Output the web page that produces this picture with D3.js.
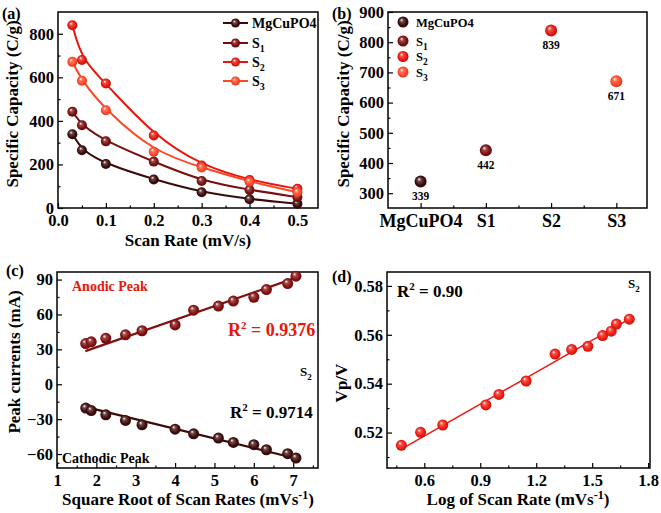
<!DOCTYPE html>
<html><head><meta charset="utf-8">
<script src="https://cdn.jsdelivr.net/npm/d3@7"></script>
<style>
body{margin:0;background:#fff;}
svg{font-family:"Liberation Serif","Times New Roman",serif;font-weight:bold;}
</style></head>
<body>
<svg id="c" width="661" height="513"></svg>
<script>
// ---------- DATA ----------
const scanRates = [0.03, 0.05, 0.1, 0.2, 0.3, 0.4, 0.5];
const seriesNames = ["MgCuPO4", "S1", "S2", "S3"];
const capMg = [339, 265, 202, 131, 72, 40, 20];
const capS1 = [442, 380, 306, 213, 124, 83, 50];
const capS2 = [839, 680, 572, 333, 195, 128, 88];
const capS3 = [671, 584, 449, 258, 186, 121, 72];
const maxCap = [339, 442, 839, 671];
const colors = ["#3a0a0a", "#7a0e0e", "#e8160c", "#ff4726"];

const sqrtRates = [1.73, 1.87, 2.24, 2.74, 3.16, 4.0, 4.47, 5.1, 5.48, 6.0, 6.32, 6.86, 7.07];
const anodic = [35, 36.5, 39.5, 42.5, 46, 51, 63.7, 67.2, 71.5, 74.8, 81.4, 86.6, 92.9];
const cathodic = [-20.5, -22.6, -26.3, -31.1, -34.9, -38.6, -42.6, -46.3, -50, -52, -56.3, -59.7, -63.4];
const anodicFitX = [1.72, 7.15];
const anodicFitY = [28.5, 92.5];
const cathodicFitX = [1.72, 7.15];
const cathodicFitY = [-19.5, -64.5];

const logRates = [0.477, 0.58, 0.699, 0.93, 1.0, 1.146, 1.301, 1.39, 1.477, 1.556, 1.602, 1.63, 1.699];
const vp = [0.5148, 0.5201, 0.5231, 0.5313, 0.5356, 0.5411, 0.5521, 0.554, 0.5553, 0.5597, 0.5615, 0.5644, 0.5664];
const vpFitX = [0.477, 1.70];
const vpFitY = [0.5132, 0.5665];

// ---------- SETUP ----------
const svg = d3.select("#c");
const defs = svg.append("defs");
function grad(id, col) {
  const g = defs.append("radialGradient").attr("id", id)
    .attr("cx", "50%").attr("cy", "50%").attr("r", "55%").attr("fx", "35%").attr("fy", "30%");
  g.append("stop").attr("offset", "0%").attr("stop-color", "#ffffff");
  g.append("stop").attr("offset", "28%").attr("stop-color", d3.interpolateRgb(col, "#fff")(0.25));
  g.append("stop").attr("offset", "70%").attr("stop-color", col);
  g.append("stop").attr("offset", "100%").attr("stop-color", d3.color(col).darker(0.8));
}
colors.forEach((c, i) => grad("g" + i, c));
grad("gc1", "#820f0f");
grad("gc2", "#3d0a0a");
grad("gd", "#f01a10");

function frame(x0, x1, y0, y1) {
  svg.append("rect").attr("x", x0).attr("y", y0).attr("width", x1 - x0).attr("height", y1 - y0)
    .attr("fill", "none").attr("stroke", "#000").attr("stroke-width", 1.5);
}
function axes(xs, ys, xt, yt, xfmt, yfmt, xminor, yminor, xlabelsOverride, xsize) {
  const [x0, x1] = xs.range(), [y1, y0] = ys.range();
  const gx = svg.append("g").attr("transform", `translate(0,${y1})`);
  gx.call(d3.axisBottom(xs).tickValues(xt).tickSize(-5).tickPadding(6).tickFormat(xlabelsOverride || xfmt));
  gx.append("g").call(d3.axisBottom(xs).tickValues(xminor).tickSize(-2.5).tickFormat(""));
  gx.selectAll(".tick text").attr("font-size", xsize || 16.5);
  const gy = svg.append("g").attr("transform", `translate(${x0},0)`);
  gy.call(d3.axisLeft(ys).tickValues(yt).tickSize(-5).tickPadding(4).tickFormat(yfmt));
  gy.append("g").call(d3.axisLeft(ys).tickValues(yminor).tickSize(-2.5).tickFormat(""));
  gy.selectAll(".tick text").attr("font-size", 16.5);
  svg.selectAll(".domain").remove();
  svg.selectAll(".tick line").attr("stroke", "#000").attr("stroke-width", 1.2);
  svg.selectAll(".tick text").attr("font-family", "Liberation Serif").attr("font-weight", "bold").attr("fill", "#000");
  frame(x0, x1, y0, y1);
}
function text(x, y, str, opt = {}) {
  const t = svg.append("text").attr("x", x).attr("y", y).attr("font-size", opt.size || 15)
    .attr("fill", opt.fill || "#000").attr("text-anchor", opt.anchor || "start");
  if (str) t.text(str);
  if (opt.rot) t.attr("transform", `rotate(-90,${x},${y})`);
  return t;
}
function sphere(x, y, r, gid) {
  svg.append("circle").attr("cx", x).attr("cy", y).attr("r", r).attr("fill", `url(#${gid})`);
}
function subLabel(t, base, sub, subSize) {
  t.append("tspan").text(base);
  t.append("tspan").attr("font-size", subSize).attr("dy", 4).text(sub);
}

// ---------- PANEL (a) ----------
{
  const xs = d3.scaleLinear().domain([0, 0.543]).range([58, 318]);
  const ys = d3.scaleLinear().domain([0, 900]).range([208, 12]);
  axes(xs, ys, [0, 0.1, 0.2, 0.3, 0.4, 0.5], [0, 200, 400, 600, 800],
    d3.format(".1f"), d3.format("d"), [0.05, 0.15, 0.25, 0.35, 0.45], [100, 300, 500, 700]);
  const sets = [capMg, capS1, capS2, capS3];
  const line = d3.line().x((d, i) => xs(scanRates[i])).y(d => ys(d)).curve(d3.curveBasis);
  sets.forEach((s, k) => {
    svg.append("path").attr("d", line(s)).attr("fill", "none").attr("stroke", colors[k]).attr("stroke-width", 2);
  });
  sets.forEach((s, k) => s.forEach((v, i) => sphere(xs(scanRates[i]), ys(v), 5, "g" + k)));
  const ly = [23, 43, 62, 81];
  ly.forEach((y, k) => {
    svg.append("line").attr("x1", 223).attr("x2", 248).attr("y1", y).attr("y2", y).attr("stroke", colors[k]).attr("stroke-width", 2);
    sphere(235.5, y, 4.5, "g" + k);
    const t = text(252, y + 5, "", { size: 14 });
    if (k === 0) { t.append("tspan").text("MgCuPO"); t.append("tspan").attr("font-size", 14).text("4"); }
    else subLabel(t, "S", String(k), 10);
  });
  text(2, 19, "(a)", { size: 16 });
  text(188, 246, "Scan Rate (mV/s)", { size: 17, anchor: "middle" });
  text(18, 104, "Specific Capacity (C/g)", { size: 17, anchor: "middle", rot: true });
}

// ---------- PANEL (b) ----------
{
  const xs = d3.scaleLinear().domain([0.5, 4.47]).range([388, 647]);
  const ys = d3.scaleLinear().domain([251, 900]).range([208, 12]);
  axes(xs, ys, [1, 2, 3, 4], [300, 400, 500, 600, 700, 800, 900],
    null, d3.format("d"), [1.5, 2.5, 3.5], [350, 450, 550, 650, 750, 850], (d) => ["MgCuPO4", "S1", "S2", "S3"][d - 1], 18);
  maxCap.forEach((v, i) => {
    sphere(xs(i + 1), ys(v), 6, "g" + i);
    text(xs(i + 1), ys(v) + 19, String(v), { size: 11.5, anchor: "middle" });
  });
  const ly = [22, 41, 56.5, 72];
  ly.forEach((y, k) => {
    sphere(403, y, 5.5, "g" + k);
    const t = text(416, y + 4.5, "", { size: 12.5 });
    if (k === 0) { t.append("tspan").text("MgCuPO"); t.append("tspan").attr("font-size", 12.5).text("4"); }
    else subLabel(t, "S", String(k), 9.5);
  });
  text(332, 19, "(b)", { size: 16 });
  text(349, 104, "Specific Capacity (C/g)", { size: 17, anchor: "middle", rot: true });
}

// ---------- PANEL (c) ----------
{
  const xs = d3.scaleLinear().domain([1, 7.63]).range([57, 318]);
  const ys = d3.scaleLinear().domain([-72, 96.5]).range([468, 272]);
  axes(xs, ys, [1, 2, 3, 4, 5, 6, 7], [-60, -30, 0, 30, 60, 90],
    d3.format("d"), d3.format("d"), [1.5, 2.5, 3.5, 4.5, 5.5, 6.5, 7.5], [-67.5, -45, -15, 15, 45, 75]);
  svg.append("line").attr("x1", xs(anodicFitX[0])).attr("x2", xs(anodicFitX[1]))
    .attr("y1", ys(anodicFitY[0])).attr("y2", ys(anodicFitY[1])).attr("stroke", "#820f0f").attr("stroke-width", 2.2);
  svg.append("line").attr("x1", xs(cathodicFitX[0])).attr("x2", xs(cathodicFitX[1]))
    .attr("y1", ys(cathodicFitY[0])).attr("y2", ys(cathodicFitY[1])).attr("stroke", "#3d0a0a").attr("stroke-width", 2.2);
  sqrtRates.forEach((x, i) => {
    sphere(xs(x), ys(anodic[i]), 5.5, "gc1");
    sphere(xs(x), ys(cathodic[i]), 5.5, "gc2");
  });
  text(72, 291, "Anodic Peak", { size: 14, fill: "#e8160c" });
  const r1 = text(228, 336, "", { size: 18, fill: "#e8160c" });
  r1.append("tspan").text("R"); r1.append("tspan").attr("font-size", 11).attr("dy", -7).text("2");
  r1.append("tspan").attr("dy", 7).text(" = 0.9376");
  const s2 = text(300, 376, "", { size: 13 }); subLabel(s2, "S", "2", 9);
  const r2 = text(230, 418, "", { size: 17 });
  r2.append("tspan").text("R"); r2.append("tspan").attr("font-size", 11).attr("dy", -7).text("2");
  r2.append("tspan").attr("dy", 7).text(" = 0.9714");
  text(62, 463, "Cathodic Peak", { size: 14 });
  text(6, 276, "(c)", { size: 16 });
  const xt = text(188, 505, "", { size: 17, anchor: "middle" });
  xt.append("tspan").text("Square Root of Scan Rates (mVs");
  xt.append("tspan").attr("font-size", 12).attr("dy", -6).text("-1");
  xt.append("tspan").attr("dy", 6).text(")");
  text(20, 362, "Peak currents (mA)", { size: 17, anchor: "middle", rot: true });
}

// ---------- PANEL (d) ----------
{
  const xs = d3.scaleLinear().domain([0.4, 1.81]).range([387, 650]);
  const ys = d3.scaleLinear().domain([0.5055, 0.5857]).range([468, 272]);
  axes(xs, ys, [0.6, 0.9, 1.2, 1.5, 1.8], [0.52, 0.54, 0.56, 0.58],
    d3.format(".1f"), d3.format(".2f"), [0.45, 0.75, 1.05, 1.35, 1.65], [0.51, 0.53, 0.55, 0.57]);
  svg.append("line").attr("x1", xs(vpFitX[0])).attr("x2", xs(vpFitX[1]))
    .attr("y1", ys(vpFitY[0])).attr("y2", ys(vpFitY[1])).attr("stroke", "#ee1c12").attr("stroke-width", 1.5);
  logRates.forEach((x, i) => sphere(xs(x), ys(vp[i]), 5.5, "gd"));
  const r = text(397, 297, "", { size: 17 });
  r.append("tspan").text("R"); r.append("tspan").attr("font-size", 11).attr("dy", -7).text("2");
  r.append("tspan").attr("dy", 7).text(" = 0.90");
  const s2 = text(628, 288, "", { size: 13 }); subLabel(s2, "S", "2", 9);
  text(332, 282, "(d)", { size: 16 });
  const xt = text(518, 505, "", { size: 17, anchor: "middle" });
  xt.append("tspan").text("Log of Scan Rate (mVs");
  xt.append("tspan").attr("font-size", 12).attr("dy", -6).text("-1");
  xt.append("tspan").attr("dy", 6).text(")");
  text(347, 383, "Vp/V", { size: 17, anchor: "middle", rot: true });
}
</script>
</body></html>
